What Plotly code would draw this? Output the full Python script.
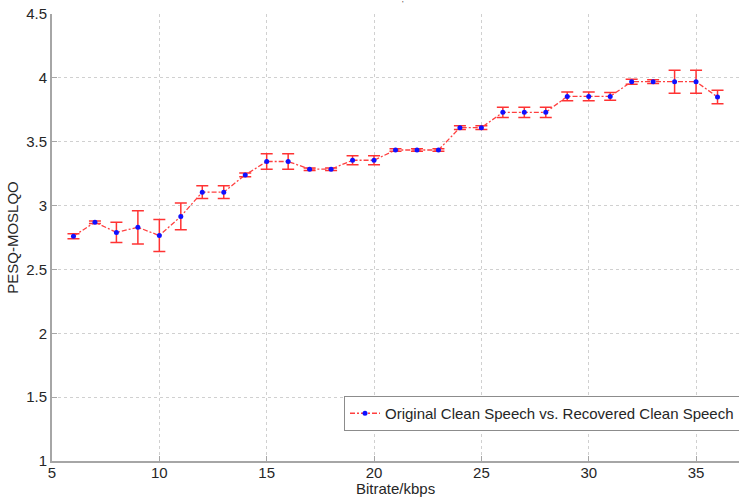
import plotly.graph_objects as go

# Bitrate sweep and PESQ-MOSLQO scores with their spreads
bitrate_kbps = list(range(6, 37))
pesq_mean = [2.76, 2.87, 2.79, 2.83, 2.765, 2.915, 3.105, 3.105, 3.24, 3.345,
             3.345, 3.285, 3.285, 3.355, 3.355, 3.435, 3.435, 3.435, 3.61, 3.61,
             3.73, 3.73, 3.73, 3.855, 3.855, 3.855, 3.97, 3.97, 3.97, 3.97, 3.85]
pesq_err = [0.02, 0.01, 0.08, 0.13, 0.125, 0.105, 0.05, 0.05, 0.015, 0.06,
            0.06, 0.01, 0.01, 0.035, 0.035, 0.01, 0.01, 0.01, 0.015, 0.015,
            0.04, 0.04, 0.04, 0.035, 0.035, 0.03, 0.02, 0.015, 0.09, 0.09, 0.053]

series_name = "Original Clean Speech vs. Recovered Clean Speech"
x_title = "Bitrate/kbps"
y_title = "PESQ-MOSLQO"
x_ticks = [5, 10, 15, 20, 25, 30, 35]
y_ticks = [1, 1.5, 2, 2.5, 3, 3.5, 4, 4.5]

FONT = "Liberation Sans, Arial, sans-serif"
AXIS_GRAY = "#a6a6a6"
TEXT = "#262626"
PLOT_H = 498 - 14 - 37

fig = go.Figure()
fig.add_trace(go.Scatter(
    x=bitrate_kbps,
    y=pesq_mean,
    name=series_name,
    mode="lines+markers",
    line=dict(color="#ff4040", width=1.3, dash="5px,2px,2px,2px"),
    marker=dict(color="#1010ff", size=5, symbol="circle"),
    error_y=dict(type="data", array=pesq_err, visible=True,
                 color="#ff3333", thickness=1.5, width=6),
))

# stray tick mark above the plot area
fig.add_annotation(x=(403 - 52) / 687, y=1.01, xref="paper", yref="paper", text="'",
                   showarrow=False, font=dict(size=8, color="#333"),
                   xanchor="center", yanchor="bottom")

# x-axis title placed at the very bottom, below the tick labels
fig.add_annotation(x=0.5, y=-37 / PLOT_H, xref="paper", yref="paper", text=x_title,
                   showarrow=False, font=dict(family=FONT, size=15, color=TEXT),
                   xanchor="center", yanchor="bottom", borderpad=0)

fig.update_layout(
    width=739, height=498,
    margin=dict(l=52, r=0, t=14, b=37, autoexpand=False),
    paper_bgcolor="white", plot_bgcolor="white",
    font=dict(family=FONT, size=15, color=TEXT),
    showlegend=True,
    legend=dict(
        x=(344 - 52) / 687, y=(461 - 396) / PLOT_H,
        xanchor="left", yanchor="top",
        bgcolor="white", bordercolor="#8c8c8c", borderwidth=1,
        font=dict(family=FONT, size=15, color=TEXT),
        itemwidth=30, tracegroupgap=0,
    ),
    xaxis=dict(
        range=[5, 37], tickvals=x_ticks, ticktext=[str(v) for v in x_ticks],
        tickfont=dict(family=FONT, size=15, color=TEXT),
        ticklabelstandoff=-3,
        showline=True, linecolor=AXIS_GRAY, linewidth=2,
        ticks="inside", ticklen=5, tickcolor=AXIS_GRAY, tickwidth=1,
        showgrid=True, gridcolor="#d0d0d0", griddash="dot", gridwidth=1,
        zeroline=False,
    ),
    yaxis=dict(
        range=[1, 4.5], tickvals=y_ticks, ticktext=["1", "1.5", "2", "2.5", "3", "3.5", "4", "4.5"],
        tickfont=dict(family=FONT, size=15, color=TEXT),
        showline=True, linecolor=AXIS_GRAY, linewidth=2,
        ticks="inside", ticklen=5, tickcolor=AXIS_GRAY, tickwidth=1,
        showgrid=True, gridcolor="#d0d0d0", griddash="dot", gridwidth=1,
        zeroline=False,
        title=dict(text=y_title, standoff=4,
                   font=dict(family=FONT, size=15, color=TEXT)),
    ),
)

fig.write_html("out.html")
